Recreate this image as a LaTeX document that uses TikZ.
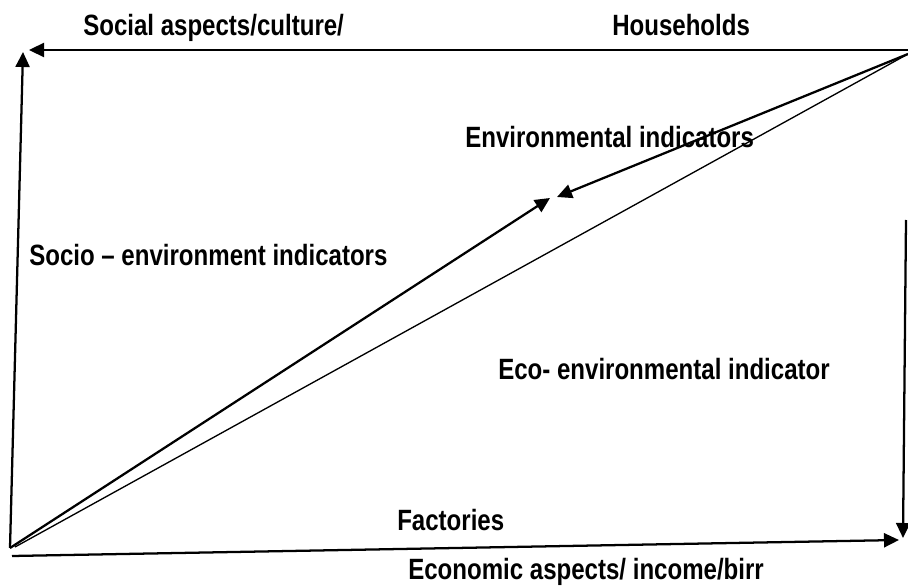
\documentclass[tikz,border=0pt]{standalone}
\usepackage{fontspec}
\setmainfont{Liberation Sans}[FakeStretch=0.82]
\usetikzlibrary{arrows.meta}
\tikzset{
  axis/.style={line width=1.7pt, black},
  thinline/.style={line width=1.0pt, black},
  tip/.style={-{Triangle[length=11.25pt,width=10.5pt]}},
  lbl/.style={anchor=base west, inner sep=0pt, font=\bfseries\fontsize{22}{26}\selectfont}
}
\begin{document}
\begin{tikzpicture}[x=0.75pt,y=-0.75pt]
\useasboundingbox (0,0) rectangle (908,588);
% corner points of the frame
\coordinate (origin) at (10,548);
\coordinate (thinstart) at (15,547);
\coordinate (hh) at (908,54);
\coordinate (topright) at (908,50);
\coordinate (social) at (29,50);
\coordinate (socialtip) at (23,52);
\coordinate (bottomstart) at (12,556);
\coordinate (econtip) at (899,540);
\coordinate (rightstart) at (906,220);
\coordinate (righttip) at (903,538);
\coordinate (midup) at (550,198);
\coordinate (middown) at (557,197);
% frame arrows
\draw[axis,tip] (topright) -- (social);
\draw[axis,tip] (origin) -- (socialtip);
\draw[axis,tip] (bottomstart) -- (econtip);
\draw[axis,tip] (rightstart) -- (righttip);
% diagonals
\draw[axis,tip] (origin) -- (midup);
\draw[axis,tip] (hh) -- (middown);
\draw[thinline] (thinstart) -- (hh);
% labels
\node[lbl] (l1) at (83,36) {Social aspects/culture/};
\node[lbl] (l2) at (612,36) {Households};
\node[lbl] (l3) at (465,148) {Environmental indicators};
\node[lbl] (l4) at (29,266) {Socio – environment indicators};
\node[lbl] (l5) at (498,379) {Eco- environmental indicator};
\node[lbl] (l6) at (397,530) {Factories};
\node[lbl] (l7) at (408,579) {Economic aspects/ income/birr};
\end{tikzpicture}
\end{document}
